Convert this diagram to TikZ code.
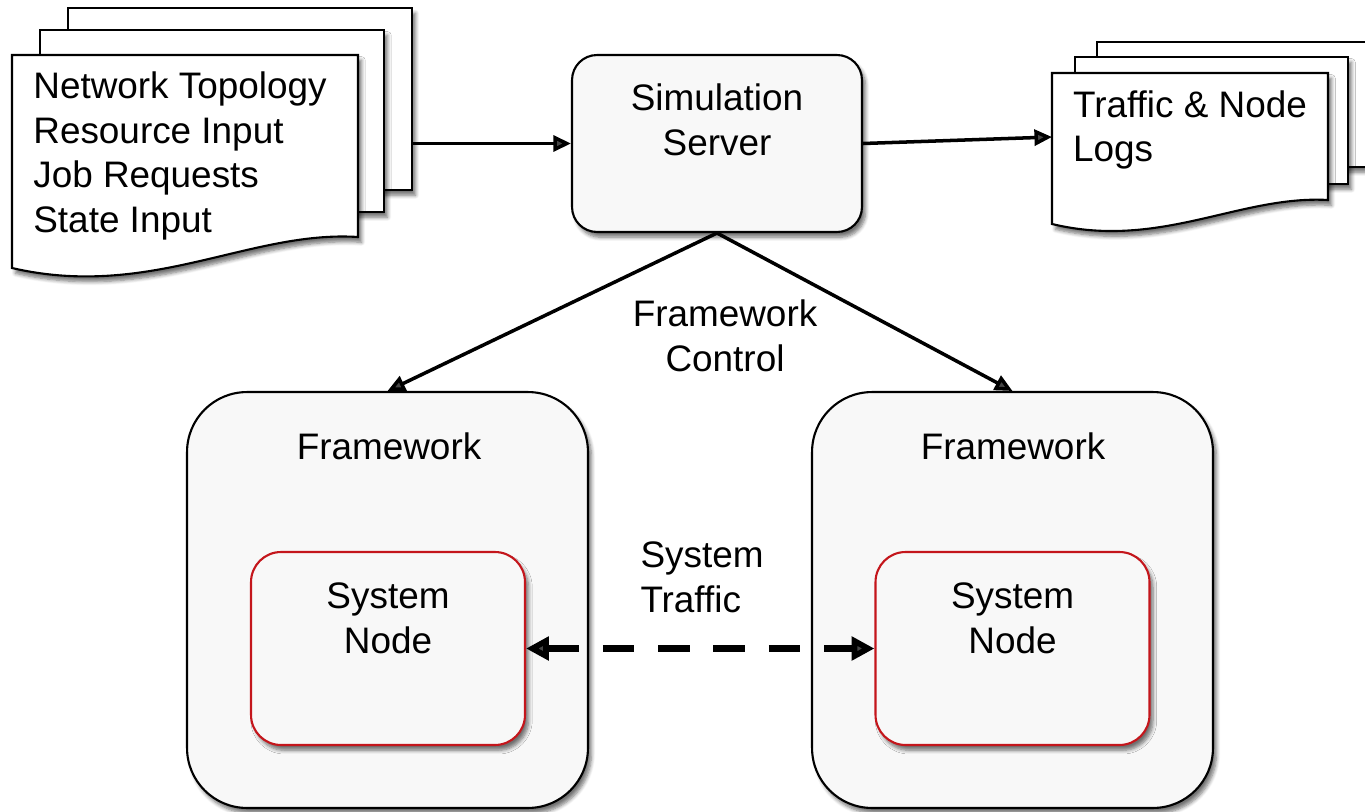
\documentclass[tikz,border=0pt]{standalone}
\usepackage{fontspec}
\setmainfont{Liberation Sans}
\usetikzlibrary{arrows.meta,positioning,calc,shadows.blur}
\definecolor{ink}{HTML}{000000}
\definecolor{boxfill}{HTML}{F8F8F8}
\definecolor{noderim}{HTML}{C4161C}

\begin{document}
\begin{tikzpicture}[x=0.02cm, y=-0.02cm,
  drop/.style={blur shadow={shadow xshift=2pt, shadow yshift=-3pt, shadow blur steps=6, shadow opacity=55}},
  page/.style={draw=ink, line width=1.2pt, fill=white, drop},
  roundbox/.style={draw=ink, line width=1.2pt, fill=boxfill, rounded corners=#1, drop},
  sysbox/.style={draw=noderim, line width=1.2pt, fill=boxfill, rounded corners=0.6cm,
    minimum width=5.48cm, minimum height=3.86cm, drop},
  fwbox/.style={roundbox=1.2cm, minimum width=8.02cm, minimum height=8.32cm},
  txt/.style={font=\fontsize{21}{25.5}\selectfont, text=ink, inner sep=0pt},
  link/.style={line width=2pt, -{Triangle[length=10pt,width=9pt]}},
  traffic/.style={line width=4.2pt, dash pattern=on 18pt off 13.5pt,
    {Triangle[length=13pt,width=13pt]}-{Triangle[length=13pt,width=13pt]}}]
  \useasboundingbox (0,0) rectangle (1365,811);

  % input documents
  \draw[page] (68,8) rectangle (412,190);
  \draw[page] (40,30) rectangle (384,212);
  \draw[page] (12,55) -- (358,55) -- (358,237)
    .. controls (250,230) and (150,300) .. (12,268) -- cycle;
  \node[txt, align=left] (inputs) at (180,156)
    {Network Topology\\Resource Input\\Job Requests\\State Input};
  \coordinate (inputs-out) at (412,143.5);

  % output logs
  \draw[page] (1097,42) rectangle (1390,167);
  \draw[page] (1075,57) rectangle (1348,184);
  \draw[page] (1052,73) -- (1328,73) -- (1328,200)
    .. controls (1240,195) and (1160,250) .. (1052,224) -- cycle;
  \node[txt, align=left] (logs) at (1190,130) {Traffic \& Node\\Logs};
  \coordinate (logs-in) at (1052,137);

  % server
  \node[roundbox=0.5cm, minimum width=5.8cm, minimum height=3.54cm] (server) at (717,143.5) {};
  \node[txt, align=center] at (717,120) {Simulation\\Server};

  % frameworks
  \node[fwbox] (fwleft) at (387.5,600) {};
  \node[fwbox] (fwright) at (1012.5,600) {};
  \node[txt] at (389,446) {Framework};
  \node[txt] at (1013,446) {Framework};

  \node[sysbox] (sysleft) at (388,648.5) {};
  \node[sysbox] (sysright) at (1012.5,648.5) {};
  \node[txt, align=center] at (388,618) {System\\Node};
  \node[txt, align=center] at (1012.5,618) {System\\Node};

  % connectors
  \draw[link] (inputs-out) -- (server);
  \draw[link] (server.east) -- (logs-in);
  \draw[link] (server.south) -- (fwleft.north);
  \draw[link] (server.south) -- (fwright.north);
  \draw[traffic] (sysleft.east) -- (sysright.west);

  \node[txt, align=center] at (725,336) {Framework\\Control};
  \node[txt, align=left] at (702,577) {System\\Traffic};
\end{tikzpicture}
\end{document}
